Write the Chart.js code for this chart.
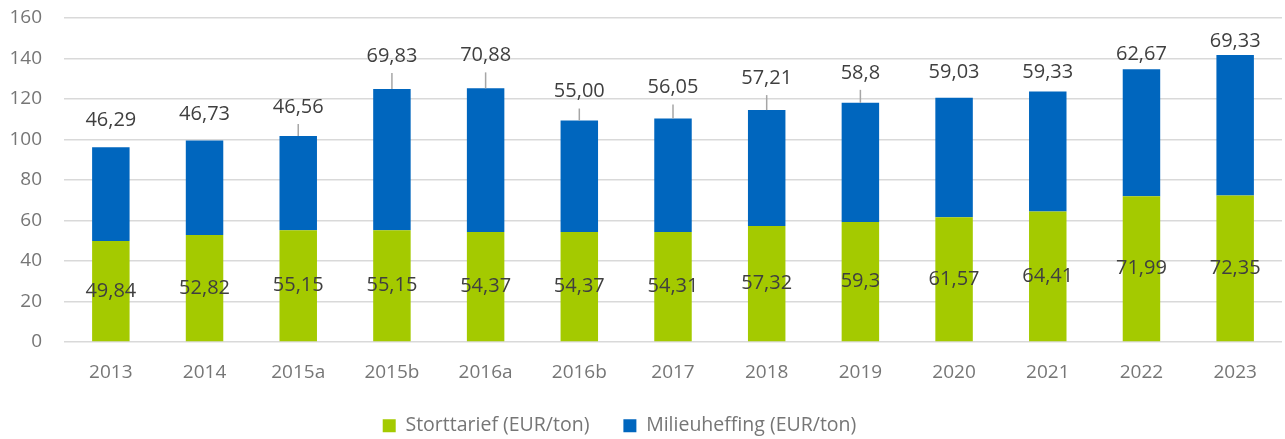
<!DOCTYPE html>
<html lang="nl">
<head>
<meta charset="UTF-8">
<title>Stort- en heffingstarieven</title>
<script src="https://cdn.jsdelivr.net/npm/chart.js"></script>
<style>
    body { margin: 0; background: #ffffff; }
    .grafico { width: 1285px; height: 439px; }
</style>
</head>
<body>
<div class="grafico"><canvas id="graficoStort"></canvas></div>
<script>
    // jaren (a/b = twee tarieven in hetzelfde jaar)
    const jaren = ['2013', '2014', '2015a', '2015b', '2016a', '2016b', '2017', '2018', '2019', '2020', '2021', '2022', '2023'];

    // waarden zoals ze in de labels staan (EUR/ton)
    const storttarief = ['49,84', '52,82', '55,15', '55,15', '54,37', '54,37', '54,31', '57,32', '59,3', '61,57', '64,41', '71,99', '72,35'];
    const milieuheffing = ['46,29', '46,73', '46,56', '69,83', '70,88', '55,00', '56,05', '57,21', '58,8', '59,03', '59,33', '62,67', '69,33'];

    // hoe ver het heffingslabel boven de staaf staat (px)
    const labelHoogte = [27, 26, 29, 33, 33, 29, 31, 32, 30, 25, 19, 15, 14];

    const kleurStort = 'rgb(164, 202, 0)';
    const kleurHeffing = 'rgb(0, 102, 190)';
    const lettertype = '"Open Sans", "Noto Sans", sans-serif';

    function getal(tekst) {
        return parseFloat(tekst.replace(',', '.'));
    }

    // eigen plugin voor de waardelabels + verbindingslijntjes
    const waardeLabels = {
        id: 'waardeLabels',
        afterDatasetsDraw(chart) {
            const ctx = chart.ctx;
            const stort = chart.getDatasetMeta(0).data;
            const heffing = chart.getDatasetMeta(1).data;
            ctx.save();
            ctx.font = '20px ' + lettertype;
            ctx.fillStyle = '#3f3f3f';
            ctx.textAlign = 'center';
            ctx.textBaseline = 'middle';

            stort.forEach(function (bar, i) {
                ctx.fillText(storttarief[i], bar.x, (bar.y + bar.base) / 2);
            });

            heffing.forEach(function (bar, i) {
                const y = bar.y - labelHoogte[i];
                if (labelHoogte[i] >= 28) {
                    ctx.strokeStyle = '#a6a6a6';
                    ctx.lineWidth = 1.5;
                    ctx.beginPath();
                    ctx.moveTo(bar.x, y + 17);
                    ctx.lineTo(bar.x, bar.y);
                    ctx.stroke();
                }
                ctx.fillText(milieuheffing[i], bar.x, y);
            });
            ctx.restore();
        }
    };

    // legenda: minder hoog en iets naar links
    const legendaPlaats = {
        id: 'legendaPlaats',
        beforeInit(chart) {
            const fit = chart.legend.fit;
            chart.legend.fit = function () {
                fit.call(this);
                this.height = 57;
            };
        },
        afterLayout(chart) {
            chart.legend.left -= 26;
            chart.legend.right -= 26;
        }
    };

    const dados = {
        labels: jaren,
        datasets: [{
            label: 'Storttarief (EUR/ton)',
            data: storttarief.map(getal),
            backgroundColor: kleurStort,
            barPercentage: 0.8,
            categoryPercentage: 0.5
        },
        {
            label: 'Milieuheffing (EUR/ton)',
            data: milieuheffing.map(getal),
            backgroundColor: kleurHeffing,
            barPercentage: 0.8,
            categoryPercentage: 0.5
        }]
    };

    const config = {
        type: 'bar',
        data: dados,
        options: {
            responsive: true,
            maintainAspectRatio: false,
            animation: false,
            layout: {
                padding: { top: 18, left: 9, right: 3, bottom: 0 }
            },
            scales: {
                x: {
                    stacked: true,
                    grid: { display: false, drawTicks: false },
                    border: { display: false },
                    ticks: {
                        color: '#767676',
                        font: { family: lettertype, size: 19 },
                        padding: 19
                    },
                    afterFit: function (scale) {
                        scale.height = 40;
                        scale.paddingLeft = 0;
                        scale.paddingRight = 0;
                    }
                },
                y: {
                    stacked: true,
                    min: 0,
                    max: 160,
                    ticks: {
                        stepSize: 20,
                        color: '#767676',
                        font: { family: lettertype, size: 19 },
                        padding: 22
                    },
                    grid: { color: '#d9d9d9', lineWidth: 1.5, drawTicks: false },
                    border: { display: false },
                    afterFit: function (scale) {
                        scale.width = 55;
                        scale.paddingTop = 0;
                        scale.paddingBottom = 0;
                    }
                }
            },
            plugins: {
                tooltip: { enabled: false },
                legend: {
                    position: 'bottom',
                    labels: {
                        boxWidth: 13,
                        boxHeight: 13,
                        padding: 34,
                        color: '#767676',
                        font: { family: lettertype, size: 19.5 }
                    }
                }
            }
        },
        plugins: [waardeLabels, legendaPlaats]
    };

    new Chart(document.getElementById('graficoStort'), config);
</script>
</body>
</html>
